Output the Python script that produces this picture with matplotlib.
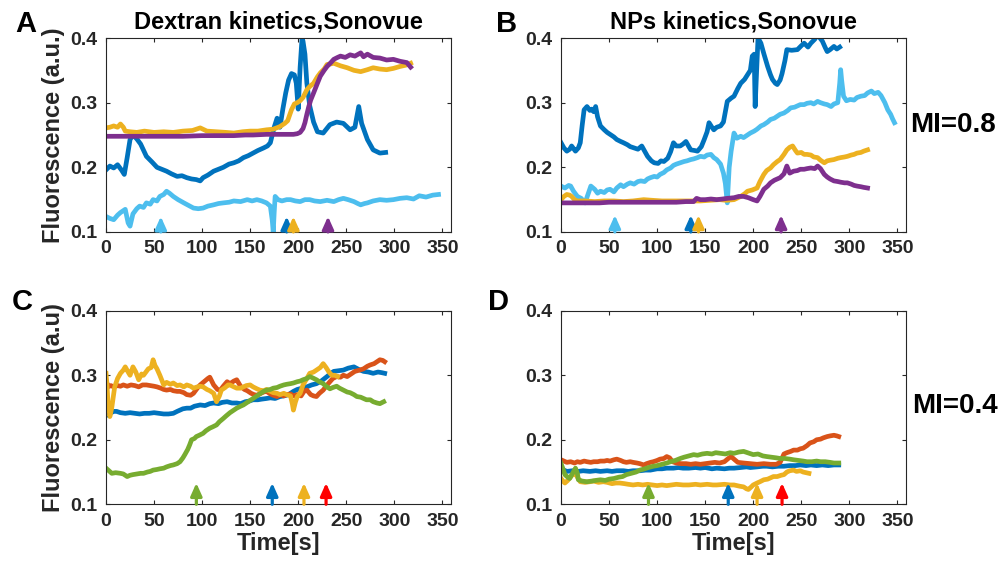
import numpy as np
import matplotlib
matplotlib.use("Agg")
import matplotlib.pyplot as plt

plt.rcParams["font.family"] = ["Liberation Sans", "DejaVu Sans"]
plt.rcParams["font.weight"] = "bold"

BLUE = "#0072BD"
ORANGE = "#D95319"
YELLOW = "#EDB120"
PURPLE = "#7E2F8E"
GREEN = "#77AC30"
LBLUE = "#4DBEEE"
RED = "#FF0000"
AXC = "#262626"

XTICKS = [0, 50, 100, 150, 200, 250, 300, 350]
YTICKS = [0.1, 0.2, 0.3, 0.4]
YTICK_LABELS = ["0.1", "0.2", "0.3", "0.4"]

# ---- panel A: Dextran, MI=0.8 (time s, fluorescence)
A_DBLUE = [(0, 0.196), (4, 0.202), (8, 0.199), (12, 0.204), (16, 0.196), (19, 0.189), (22, 0.215), (25, 0.243),
           (28, 0.250), (32, 0.244), (36, 0.236), (42, 0.217), (48, 0.208), (53, 0.200), (58, 0.197), (63, 0.194),
           (68, 0.190), (74, 0.186), (79, 0.187), (84, 0.184), (89, 0.182), (94, 0.181), (98, 0.179), (101, 0.184),
           (106, 0.188), (112, 0.194), (117, 0.197), (122, 0.200), (128, 0.205), (133, 0.207), (138, 0.210),
           (143, 0.215), (148, 0.218), (153, 0.222), (158, 0.226), (164, 0.230), (168, 0.233), (171, 0.238),
           (175, 0.262), (178, 0.276), (181, 0.262), (184, 0.290), (187, 0.315), (190, 0.335), (193, 0.345),
           (196, 0.343), (198, 0.330), (200, 0.290), (202, 0.355), (204, 0.400), (205, 0.395), (207, 0.375),
           (209, 0.330), (212, 0.295), (216, 0.270), (220, 0.255), (226, 0.253), (233, 0.266), (240, 0.270),
           (247, 0.268), (254, 0.258), (259, 0.262), (263, 0.294), (266, 0.268), (272, 0.243), (278, 0.227),
           (285, 0.222), (291, 0.223)]
A_LBLUE = [(0, 0.124), (4, 0.121), (8, 0.119), (12, 0.126), (15, 0.130), (18, 0.133), (20, 0.135), (23, 0.114),
           (25, 0.109), (28, 0.128), (32, 0.136), (35, 0.140), (39, 0.138), (42, 0.145), (46, 0.143), (49, 0.150),
           (53, 0.148), (56, 0.155), (60, 0.158), (63, 0.163), (66, 0.160), (70, 0.155), (75, 0.150), (81, 0.145),
           (86, 0.141), (91, 0.137), (96, 0.136), (101, 0.137), (106, 0.140), (112, 0.142), (117, 0.144),
           (122, 0.145), (128, 0.146), (133, 0.148), (140, 0.147), (147, 0.150), (152, 0.148), (157, 0.150),
           (162, 0.148), (167, 0.145), (171, 0.140), (173, 0.118), (174, 0.100), (175, 0.130), (176, 0.155),
           (179, 0.150), (183, 0.148), (188, 0.150), (192, 0.150), (197, 0.148), (202, 0.147), (207, 0.150),
           (212, 0.150), (217, 0.148), (223, 0.147), (230, 0.149), (237, 0.147), (242, 0.150), (247, 0.152),
           (252, 0.150), (258, 0.147), (262, 0.144), (265, 0.142), (269, 0.144), (272, 0.145), (278, 0.148),
           (285, 0.150), (292, 0.149), (299, 0.150), (306, 0.152), (313, 0.153), (320, 0.151), (326, 0.156),
           (333, 0.154), (340, 0.157), (346, 0.158)]
A_YELLOW = [(0, 0.261), (4, 0.262), (8, 0.264), (12, 0.262), (15, 0.267), (18, 0.262), (20, 0.256), (25, 0.255),
            (32, 0.254), (40, 0.256), (50, 0.254), (60, 0.255), (70, 0.254), (80, 0.256), (90, 0.257), (98, 0.261),
            (105, 0.256), (115, 0.255), (125, 0.254), (133, 0.253), (142, 0.255), (150, 0.256), (158, 0.256),
            (167, 0.258), (174, 0.259), (181, 0.263), (186, 0.268), (189, 0.272), (193, 0.289), (196, 0.298),
            (199, 0.300), (202, 0.303), (205, 0.308), (209, 0.320), (212, 0.325), (216, 0.330), (220, 0.340),
            (223, 0.346), (227, 0.352), (230, 0.359), (234, 0.360), (237, 0.361), (244, 0.357), (251, 0.354),
            (258, 0.350), (265, 0.348), (272, 0.351), (278, 0.354), (285, 0.352), (292, 0.351), (299, 0.353),
            (306, 0.356), (312, 0.358), (317, 0.361)]
A_PURPLE = [(0, 0.248), (20, 0.248), (40, 0.248), (60, 0.248), (80, 0.248), (100, 0.249), (120, 0.249),
            (133, 0.249), (145, 0.250), (153, 0.250), (167, 0.251), (181, 0.251), (190, 0.251), (195, 0.251),
            (199, 0.252), (202, 0.254), (205, 0.260), (207, 0.269), (209, 0.282), (211, 0.294), (213, 0.304),
            (216, 0.315), (220, 0.330), (223, 0.341), (227, 0.350), (230, 0.356), (234, 0.362), (237, 0.367),
            (241, 0.370), (244, 0.372), (249, 0.370), (254, 0.374), (259, 0.372), (265, 0.377), (268, 0.371),
            (272, 0.375), (278, 0.370), (285, 0.369), (292, 0.366), (299, 0.367), (306, 0.364), (313, 0.362),
            (317, 0.355)]

# ---- panel B: NPs, MI=0.8
B_DBLUE = [(0, 0.238), (3, 0.230), (6, 0.225), (9, 0.228), (11, 0.233), (13, 0.229), (15, 0.225), (18, 0.230),
           (20, 0.238), (22, 0.265), (24, 0.289), (27, 0.294), (30, 0.288), (32, 0.290), (34, 0.286), (36, 0.294),
           (38, 0.278), (41, 0.264), (45, 0.258), (48, 0.254), (51, 0.251), (55, 0.247), (58, 0.243), (62, 0.240),
           (65, 0.238), (69, 0.235), (72, 0.232), (76, 0.230), (80, 0.228), (84, 0.233), (87, 0.225), (90, 0.217),
           (94, 0.210), (97, 0.207), (101, 0.206), (104, 0.210), (107, 0.209), (111, 0.214), (114, 0.224),
           (117, 0.238), (120, 0.233), (124, 0.233), (127, 0.236), (130, 0.240), (133, 0.232), (135, 0.227),
           (139, 0.226), (142, 0.225), (146, 0.232), (149, 0.243), (152, 0.255), (154, 0.269), (157, 0.262),
           (159, 0.258), (162, 0.262), (166, 0.264), (169, 0.270), (173, 0.302), (177, 0.307), (180, 0.310),
           (184, 0.322), (187, 0.330), (191, 0.336), (194, 0.343), (197, 0.350), (199, 0.372), (201, 0.375),
           (202, 0.294), (203, 0.330), (205, 0.400), (208, 0.392), (211, 0.376), (215, 0.356), (218, 0.343),
           (220, 0.336), (223, 0.330), (225, 0.328), (228, 0.335), (230, 0.345), (233, 0.365), (235, 0.382),
           (240, 0.381), (246, 0.382), (250, 0.388), (253, 0.392), (257, 0.386), (260, 0.392), (264, 0.398),
           (267, 0.405), (272, 0.395), (275, 0.385), (277, 0.379), (280, 0.382), (284, 0.387), (287, 0.383),
           (290, 0.386)]
B_LBLUE = [(0, 0.171), (4, 0.168), (8, 0.172), (10, 0.171), (13, 0.163), (17, 0.155), (21, 0.152), (25, 0.145),
           (28, 0.158), (31, 0.171), (35, 0.166), (38, 0.160), (41, 0.163), (45, 0.161), (48, 0.165), (51, 0.166),
           (55, 0.162), (58, 0.168), (62, 0.173), (65, 0.170), (69, 0.174), (72, 0.176), (76, 0.174), (80, 0.178),
           (83, 0.179), (87, 0.178), (90, 0.182), (93, 0.184), (97, 0.186), (100, 0.185), (103, 0.189),
           (107, 0.192), (110, 0.196), (114, 0.199), (117, 0.203), (120, 0.205), (124, 0.207), (128, 0.209),
           (131, 0.210), (135, 0.212), (138, 0.213), (142, 0.215), (145, 0.217), (149, 0.216), (152, 0.219),
           (156, 0.220), (159, 0.215), (162, 0.212), (166, 0.205), (169, 0.191), (171, 0.175), (173, 0.145),
           (175, 0.200), (177, 0.225), (180, 0.253), (183, 0.245), (187, 0.248), (190, 0.246), (194, 0.250),
           (197, 0.253), (201, 0.256), (204, 0.259), (208, 0.264), (211, 0.266), (215, 0.270), (218, 0.274),
           (222, 0.276), (225, 0.279), (228, 0.282), (232, 0.284), (236, 0.288), (239, 0.292), (243, 0.293),
           (246, 0.295), (249, 0.297), (253, 0.297), (256, 0.299), (260, 0.300), (263, 0.298), (267, 0.302),
           (270, 0.300), (274, 0.298), (277, 0.297), (281, 0.294), (284, 0.298), (288, 0.300), (290, 0.330),
           (291, 0.351), (292, 0.335), (294, 0.310), (297, 0.303), (301, 0.305), (305, 0.304), (308, 0.308),
           (312, 0.310), (316, 0.311), (319, 0.315), (323, 0.318), (326, 0.314), (330, 0.316), (333, 0.311),
           (337, 0.300), (340, 0.289), (343, 0.282), (345, 0.275), (347, 0.269)]
B_YELLOW = [(0, 0.150), (3, 0.155), (6, 0.158), (9, 0.157), (11, 0.155), (14, 0.150), (17, 0.148), (25, 0.148),
            (35, 0.147), (45, 0.148), (55, 0.148), (65, 0.147), (75, 0.148), (86, 0.150), (95, 0.149),
            (105, 0.148), (115, 0.148), (125, 0.148), (135, 0.148), (145, 0.148), (155, 0.149), (165, 0.150),
            (172, 0.149), (180, 0.150), (187, 0.155), (191, 0.159), (194, 0.163), (199, 0.165), (204, 0.168),
            (207, 0.178), (211, 0.189), (214, 0.195), (218, 0.199), (221, 0.204), (225, 0.209), (228, 0.212),
            (232, 0.220), (235, 0.227), (238, 0.231), (241, 0.233), (244, 0.226), (246, 0.222), (250, 0.223),
            (253, 0.220), (256, 0.220), (260, 0.219), (263, 0.216), (267, 0.215), (270, 0.211), (274, 0.207),
            (277, 0.210), (280, 0.211), (284, 0.212), (288, 0.214), (291, 0.215), (295, 0.216), (298, 0.217),
            (302, 0.219), (305, 0.220), (308, 0.222), (312, 0.223), (315, 0.225), (319, 0.227)]
B_PURPLE = [(0, 0.145), (10, 0.145), (20, 0.145), (30, 0.145), (40, 0.145), (50, 0.146), (60, 0.146),
            (70, 0.146), (80, 0.146), (90, 0.146), (100, 0.146), (110, 0.146), (120, 0.146), (130, 0.147),
            (138, 0.147), (141, 0.152), (145, 0.150), (150, 0.150), (156, 0.151), (162, 0.150), (168, 0.151),
            (173, 0.152), (180, 0.153), (185, 0.155), (190, 0.155), (195, 0.153), (200, 0.150), (204, 0.148),
            (207, 0.155), (211, 0.166), (215, 0.171), (218, 0.176), (222, 0.180), (228, 0.184), (232, 0.190),
            (235, 0.202), (238, 0.191), (242, 0.194), (246, 0.195), (249, 0.197), (253, 0.197), (256, 0.198),
            (260, 0.199), (264, 0.198), (267, 0.202), (270, 0.198), (274, 0.189), (277, 0.185), (280, 0.182),
            (284, 0.179), (288, 0.178), (291, 0.177), (295, 0.176), (298, 0.176), (302, 0.174), (305, 0.172),
            (308, 0.171), (312, 0.170), (315, 0.169), (319, 0.168)]

# ---- panel C: Dextran, MI=0.4
C_BLUE = [(0, 0.246), (2, 0.238), (4, 0.241), (8, 0.244), (11, 0.244), (15, 0.242), (20, 0.241), (25, 0.242),
          (30, 0.241), (35, 0.240), (40, 0.241), (45, 0.241), (50, 0.242), (55, 0.241), (60, 0.240), (65, 0.240),
          (70, 0.241), (74, 0.244), (77, 0.246), (80, 0.248), (84, 0.249), (88, 0.249), (92, 0.252), (98, 0.254),
          (103, 0.253), (108, 0.256), (112, 0.257), (117, 0.256), (121, 0.258), (126, 0.259), (131, 0.257),
          (136, 0.257), (140, 0.256), (145, 0.259), (149, 0.260), (153, 0.262), (158, 0.262), (162, 0.263),
          (167, 0.264), (171, 0.265), (176, 0.264), (181, 0.267), (185, 0.268), (190, 0.270), (195, 0.275),
          (199, 0.278), (204, 0.280), (209, 0.282), (214, 0.285), (219, 0.287), (224, 0.291), (230, 0.298),
          (234, 0.303), (237, 0.306), (242, 0.307), (247, 0.308), (252, 0.311), (258, 0.313), (263, 0.309),
          (268, 0.306), (273, 0.305), (278, 0.303), (283, 0.305), (287, 0.304), (290, 0.303)]
C_ORANGE = [(0, 0.293), (2, 0.282), (5, 0.284), (8, 0.282), (12, 0.284), (15, 0.283), (18, 0.285), (22, 0.283),
            (26, 0.285), (30, 0.284), (34, 0.282), (38, 0.285), (42, 0.285), (46, 0.284), (50, 0.283), (53, 0.282),
            (57, 0.280), (60, 0.278), (63, 0.277), (67, 0.278), (70, 0.276), (74, 0.275), (77, 0.275), (81, 0.273),
            (84, 0.270), (88, 0.269), (91, 0.272), (95, 0.280), (98, 0.285), (102, 0.290), (106, 0.295),
            (108, 0.297), (112, 0.285), (116, 0.278), (119, 0.277), (122, 0.283), (126, 0.290), (129, 0.287),
            (133, 0.291), (136, 0.293), (140, 0.283), (144, 0.278), (147, 0.276), (151, 0.272), (154, 0.270),
            (157, 0.269), (161, 0.272), (164, 0.274), (167, 0.275), (171, 0.271), (174, 0.269), (178, 0.267),
            (182, 0.270), (185, 0.268), (188, 0.270), (192, 0.271), (195, 0.268), (199, 0.270), (203, 0.268),
            (206, 0.275), (209, 0.277), (213, 0.270), (216, 0.268), (219, 0.267), (222, 0.272), (226, 0.277),
            (229, 0.283), (233, 0.290), (236, 0.295), (240, 0.298), (244, 0.297), (247, 0.300), (251, 0.298),
            (255, 0.302), (259, 0.306), (264, 0.308), (268, 0.310), (272, 0.314), (275, 0.316), (279, 0.318),
            (282, 0.321), (285, 0.324), (288, 0.323), (290, 0.321)]
C_YELLOW = [(0, 0.303), (1, 0.285), (2, 0.259), (4, 0.236), (6, 0.250), (9, 0.282), (12, 0.295), (15, 0.303),
            (18, 0.308), (20, 0.313), (23, 0.305), (25, 0.300), (28, 0.313), (31, 0.305), (34, 0.293), (37, 0.302),
            (39, 0.300), (42, 0.306), (44, 0.310), (47, 0.312), (49, 0.324), (51, 0.315), (53, 0.310), (56, 0.300),
            (60, 0.285), (63, 0.289), (67, 0.286), (70, 0.288), (74, 0.284), (77, 0.285), (81, 0.282), (84, 0.285),
            (88, 0.283), (91, 0.280), (95, 0.282), (98, 0.283), (101, 0.282), (105, 0.278), (108, 0.276),
            (112, 0.272), (115, 0.259), (118, 0.268), (120, 0.277), (124, 0.281), (127, 0.285), (129, 0.285),
            (133, 0.282), (136, 0.280), (140, 0.280), (143, 0.282), (146, 0.284), (150, 0.285), (153, 0.282),
            (157, 0.279), (160, 0.277), (164, 0.276), (167, 0.278), (171, 0.275), (174, 0.273), (178, 0.272),
            (181, 0.270), (185, 0.272), (188, 0.270), (192, 0.268), (194, 0.255), (195, 0.246), (197, 0.258),
            (199, 0.267), (202, 0.272), (205, 0.285), (209, 0.295), (212, 0.303), (216, 0.305), (219, 0.308),
            (223, 0.312), (226, 0.318), (229, 0.312), (232, 0.305), (235, 0.300), (238, 0.300), (241, 0.298)]
C_GREEN = [(0, 0.156), (3, 0.152), (6, 0.148), (10, 0.149), (15, 0.148), (18, 0.147), (22, 0.143), (25, 0.145),
           (28, 0.146), (32, 0.147), (36, 0.148), (39, 0.148), (43, 0.150), (46, 0.151), (49, 0.153), (53, 0.154),
           (56, 0.155), (60, 0.156), (63, 0.158), (67, 0.160), (70, 0.161), (74, 0.163), (77, 0.166), (80, 0.172),
           (82, 0.177), (85, 0.185), (87, 0.192), (89, 0.200), (92, 0.202), (94, 0.205), (97, 0.207), (101, 0.210),
           (104, 0.214), (108, 0.218), (111, 0.220), (115, 0.223), (118, 0.228), (122, 0.233), (125, 0.237),
           (129, 0.242), (133, 0.246), (136, 0.249), (140, 0.252), (143, 0.254), (147, 0.258), (150, 0.261),
           (153, 0.264), (157, 0.268), (160, 0.271), (164, 0.275), (167, 0.277), (171, 0.278), (174, 0.280),
           (178, 0.281), (181, 0.283), (185, 0.285), (188, 0.286), (192, 0.287), (195, 0.288), (199, 0.290),
           (202, 0.291), (205, 0.293), (209, 0.295), (212, 0.298), (215, 0.296), (219, 0.293), (222, 0.290),
           (226, 0.287), (229, 0.283), (233, 0.279), (236, 0.281), (240, 0.283), (243, 0.280), (247, 0.277),
           (251, 0.274), (254, 0.273), (258, 0.270), (261, 0.267), (265, 0.266), (268, 0.264), (271, 0.262),
           (275, 0.262), (278, 0.259), (282, 0.257), (285, 0.256), (289, 0.259)]

# ---- panel D: NPs, MI=0.4
D_ORANGE = [(0, 0.169), (3, 0.167), (6, 0.165), (10, 0.166), (14, 0.164), (17, 0.166), (20, 0.165), (24, 0.167),
            (27, 0.166), (31, 0.165), (34, 0.166), (38, 0.166), (41, 0.167), (45, 0.167), (48, 0.168), (51, 0.167),
            (55, 0.169), (58, 0.170), (62, 0.168), (65, 0.166), (68, 0.165), (72, 0.166), (75, 0.165), (79, 0.164),
            (82, 0.163), (86, 0.161), (89, 0.163), (93, 0.165), (96, 0.166), (100, 0.168), (103, 0.170),
            (107, 0.171), (110, 0.174), (113, 0.172), (116, 0.166), (120, 0.164), (125, 0.163), (130, 0.163),
            (135, 0.162), (140, 0.163), (145, 0.162), (150, 0.163), (155, 0.164), (160, 0.165), (165, 0.164),
            (170, 0.166), (174, 0.171), (177, 0.174), (180, 0.170), (184, 0.165), (190, 0.164), (197, 0.163),
            (204, 0.162), (211, 0.163), (218, 0.162), (224, 0.162), (228, 0.165), (232, 0.178), (235, 0.180),
            (239, 0.182), (242, 0.184), (246, 0.184), (249, 0.186), (252, 0.187), (256, 0.191), (259, 0.195),
            (263, 0.197), (266, 0.200), (270, 0.201), (273, 0.203), (277, 0.205), (280, 0.206), (284, 0.207),
            (287, 0.206), (289, 0.205)]
D_BLUE = [(0, 0.156), (3, 0.153), (6, 0.151), (12, 0.152), (18, 0.151), (23, 0.152), (30, 0.151), (36, 0.152),
          (41, 0.151), (48, 0.152), (53, 0.151), (58, 0.152), (65, 0.152), (70, 0.151), (75, 0.152), (82, 0.152),
          (88, 0.153), (93, 0.153), (100, 0.155), (105, 0.155), (110, 0.156), (117, 0.156), (122, 0.157),
          (127, 0.156), (133, 0.156), (140, 0.157), (145, 0.156), (150, 0.157), (157, 0.155), (162, 0.156),
          (170, 0.155), (175, 0.156), (180, 0.156), (187, 0.157), (193, 0.158), (197, 0.157), (204, 0.158),
          (210, 0.159), (214, 0.159), (220, 0.158), (226, 0.159), (232, 0.159), (238, 0.160), (244, 0.160),
          (249, 0.161), (255, 0.160), (260, 0.161), (266, 0.160), (272, 0.161), (278, 0.160), (284, 0.161),
          (289, 0.161)]
D_GREEN = [(0, 0.163), (2, 0.155), (4, 0.146), (7, 0.142), (9, 0.140), (12, 0.148), (15, 0.156), (17, 0.148),
           (18, 0.138), (22, 0.136), (27, 0.135), (32, 0.136), (36, 0.137), (41, 0.138), (46, 0.137), (50, 0.139),
           (55, 0.140), (60, 0.142), (64, 0.143), (68, 0.146), (73, 0.148), (78, 0.150), (82, 0.153), (87, 0.155),
           (91, 0.157), (96, 0.159), (100, 0.160), (105, 0.162), (110, 0.164), (114, 0.166), (119, 0.168),
           (124, 0.171), (128, 0.173), (133, 0.175), (138, 0.177), (142, 0.176), (147, 0.178), (152, 0.179),
           (157, 0.178), (161, 0.180), (166, 0.179), (171, 0.178), (176, 0.180), (180, 0.179), (185, 0.181),
           (190, 0.182), (194, 0.180), (200, 0.177), (205, 0.178), (210, 0.175), (214, 0.174), (219, 0.173),
           (224, 0.172), (228, 0.171), (233, 0.171), (238, 0.170), (242, 0.169), (247, 0.168), (252, 0.167),
           (256, 0.166), (261, 0.166), (266, 0.167), (270, 0.166), (275, 0.166), (280, 0.165), (284, 0.164),
           (289, 0.164)]
D_YELLOW = [(0, 0.140), (2, 0.136), (4, 0.133), (7, 0.137), (9, 0.141), (12, 0.146), (15, 0.148), (17, 0.142),
            (20, 0.135), (25, 0.134), (30, 0.135), (34, 0.136), (39, 0.134), (44, 0.135), (48, 0.134), (53, 0.132),
            (57, 0.133), (61, 0.133), (66, 0.132), (70, 0.131), (75, 0.130), (80, 0.131), (85, 0.130), (90, 0.131),
            (95, 0.130), (100, 0.129), (105, 0.130), (110, 0.129), (115, 0.130), (120, 0.131), (127, 0.130),
            (133, 0.130), (140, 0.131), (145, 0.130), (152, 0.131), (158, 0.130), (162, 0.130), (170, 0.131),
            (176, 0.130), (180, 0.130), (186, 0.128), (190, 0.127), (193, 0.124), (195, 0.123), (198, 0.127),
            (200, 0.130), (204, 0.133), (207, 0.135), (211, 0.138), (215, 0.139), (218, 0.141), (221, 0.143),
            (225, 0.143), (229, 0.145), (232, 0.146), (235, 0.150), (238, 0.152), (242, 0.153), (245, 0.151),
            (249, 0.152), (252, 0.150), (255, 0.149), (258, 0.148)]

# arrow markers: (time, colour)
A_ARROWS = [(57, LBLUE), (188, BLUE), (195, YELLOW), (231, PURPLE)]
B_ARROWS = [(56, LBLUE), (135, BLUE), (143, YELLOW), (229, PURPLE)]
C_ARROWS = [(94, GREEN), (173, BLUE), (206, YELLOW), (229, RED)]
D_ARROWS = [(91, GREEN), (174, BLUE), (204, YELLOW), (230, RED)]

PANELS = [
    {"pos": [0.1054, 0.5923, 0.3429, 0.3409], "series": [(A_DBLUE, BLUE), (A_LBLUE, LBLUE), (A_YELLOW, YELLOW), (A_PURPLE, PURPLE)],
     "arrows": A_ARROWS, "tip": 0.124, "title": "Dextran kinetics,Sonovue", "ylabel": "Fluorescence (a.u.)", "xlabel": None},
    {"pos": [0.5577, 0.5923, 0.3429, 0.3409], "series": [(B_DBLUE, BLUE), (B_LBLUE, LBLUE), (B_YELLOW, YELLOW), (B_PURPLE, PURPLE)],
     "arrows": B_ARROWS, "tip": 0.126, "title": "NPs kinetics,Sonovue", "ylabel": None, "xlabel": None},
    {"pos": [0.1054, 0.1137, 0.3429, 0.3402], "series": [(C_BLUE, BLUE), (C_ORANGE, ORANGE), (C_YELLOW, YELLOW), (C_GREEN, GREEN)],
     "arrows": C_ARROWS, "tip": 0.133, "title": None, "ylabel": "Fluorescence (a.u)", "xlabel": "Time[s]"},
    {"pos": [0.5577, 0.1137, 0.3429, 0.3402], "series": [(D_BLUE, BLUE), (D_ORANGE, ORANGE), (D_YELLOW, YELLOW), (D_GREEN, GREEN)],
     "arrows": D_ARROWS, "tip": 0.133, "title": None, "ylabel": None, "xlabel": "Time[s]"},
]

fig = plt.figure(figsize=(10.06, 5.69), dpi=100)

for p in PANELS:
    ax = fig.add_axes(p["pos"])
    for data, color in p["series"]:
        arr = np.array(data)
        ax.plot(arr[:, 0], arr[:, 1], color=color, lw=3.4, solid_joinstyle="round", zorder=2)
    for t, color in p["arrows"]:
        ax.annotate("", xy=(t, p["tip"]), xytext=(t, 0.1),
                    arrowprops=dict(arrowstyle="-|>,head_length=0.38,head_width=0.17", mutation_scale=20,
                                    lw=2.3, color=color, shrinkA=0, shrinkB=0), zorder=3)
    ax.set_xlim(0, 359)
    ax.set_ylim(0.1, 0.4)
    ax.set_xticks(XTICKS)
    ax.set_yticks(YTICKS)
    ax.set_yticklabels(YTICK_LABELS)
    ax.tick_params(direction="in", length=3, width=0.8, top=True, right=True, colors=AXC,
                   labelsize=14, pad=6)
    for lab in ax.get_xticklabels() + ax.get_yticklabels():
        lab.set_fontweight("bold")
    for sp in ax.spines.values():
        sp.set_color(AXC)
        sp.set_linewidth(0.8)
    if p["title"]:
        ax.set_title(p["title"], fontsize=17, fontweight="bold", pad=7, color="black")
    if p["ylabel"]:
        ax.set_ylabel(p["ylabel"], fontsize=17, fontweight="bold", color=AXC)
        ax.yaxis.set_label_coords(-0.118, 0.5)
    if p["xlabel"]:
        ax.set_xlabel(p["xlabel"], fontsize=17, fontweight="bold", color=AXC)
        ax.xaxis.set_label_coords(0.5, -0.143)

H = 569.0
W = 1006.0
for letter, x, y in [("A", 15, 32), ("B", 496, 32), ("C", 12, 310), ("D", 488, 310)]:
    fig.text(x / W, 1 - y / H, letter, fontsize=21, fontweight="bold", va="baseline", ha="left")
fig.text(910 / W, 1 - 132 / H, "MI=0.8", fontsize=20, fontweight="bold", va="baseline", ha="left")
fig.text(912 / W, 1 - 413 / H, "MI=0.4", fontsize=20, fontweight="bold", va="baseline", ha="left")

fig.savefig("out.png", dpi=100)
